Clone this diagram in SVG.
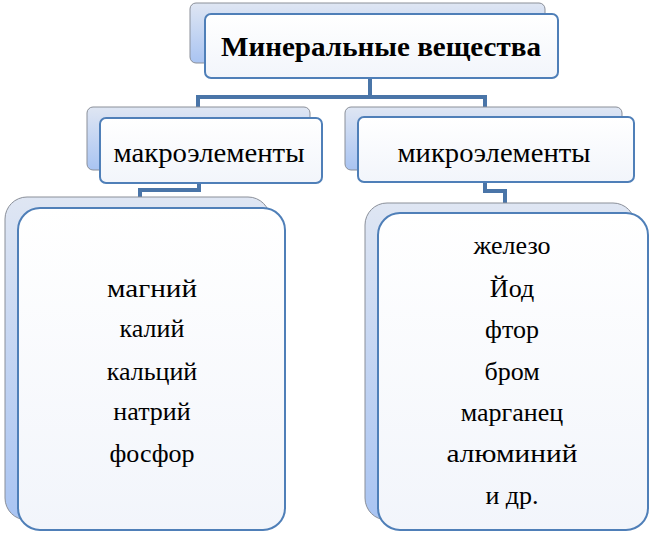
<svg xmlns="http://www.w3.org/2000/svg" width="650" height="533" viewBox="0 0 650 533">
<defs>
<linearGradient id="bk" x1="0" y1="0" x2="0" y2="1"><stop offset="0" stop-color="#dfe6f3"/><stop offset="1" stop-color="#a9c4f2"/></linearGradient>
<linearGradient id="fr" x1="0" y1="0" x2="0" y2="1"><stop offset="0" stop-color="#ffffff"/><stop offset="1" stop-color="#f2f5fb"/></linearGradient>
<style>
.back{fill:url(#bk);stroke:#8a8f99;stroke-width:1}
.front{fill:url(#fr);stroke:#4f7fb8;stroke-width:2}
.t{font-family:'Liberation Serif','DejaVu Serif',serif;fill:#000;text-anchor:middle}
.conn{fill:none;stroke:#4a75a8;stroke-width:4}
</style>
</defs>
<g id="connectors">
<path class="conn" d="M370 78V97H198V110M370 97H485V110"/>
<path class="conn" d="M199 183V190H140V199"/>
<path class="conn" d="M485 182V191H505V205"/>
</g>
<g id="root">
<rect class="back" x="190" y="3" width="355" height="60" rx="6"/>
<rect class="front" x="205" y="14" width="353" height="64" rx="6"/>
<text class="t" x="381" y="56" font-size="28" font-weight="bold" textLength="320" lengthAdjust="spacingAndGlyphs">Минеральные вещества</text>
</g>
<g id="macro">
<rect class="back" x="87" y="107" width="223" height="63" rx="6"/>
<rect class="front" x="100" y="118" width="222" height="65" rx="6"/>
<text class="t" x="209" y="162" font-size="28" textLength="191" lengthAdjust="spacingAndGlyphs">макроэлементы</text>
</g>
<g id="micro">
<rect class="back" x="345" y="107" width="277" height="63" rx="6"/>
<rect class="front" x="358" y="117" width="276" height="65" rx="6"/>
<text class="t" x="494" y="162" font-size="28" textLength="193" lengthAdjust="spacingAndGlyphs">микроэлементы</text>
</g>
<g id="macro-list">
<rect class="back" x="5" y="197" width="265" height="323" rx="22"/>
<rect class="front" x="18" y="208" width="267" height="322" rx="22"/>
<text class="t" x="152" y="297" font-size="26" textLength="90" lengthAdjust="spacingAndGlyphs">магний</text>
<text class="t" x="152" y="337" font-size="26">калий</text>
<text class="t" x="152" y="380" font-size="26">кальций</text>
<text class="t" x="152" y="420" font-size="26">натрий</text>
<text class="t" x="152" y="462" font-size="26">фосфор</text>
</g>
<g id="micro-list">
<rect class="back" x="365" y="203" width="270" height="317" rx="22"/>
<rect class="front" x="378" y="213" width="270" height="317" rx="22"/>
<text class="t" x="512" y="254" font-size="26">железо</text>
<text class="t" x="512" y="297" font-size="26">Йод</text>
<text class="t" x="512" y="338" font-size="26">фтор</text>
<text class="t" x="512" y="380" font-size="26">бром</text>
<text class="t" x="512" y="421" font-size="26">марганец</text>
<text class="t" x="512" y="462" font-size="26" textLength="131" lengthAdjust="spacingAndGlyphs">алюминий</text>
<text class="t" x="512" y="504" font-size="26">и др.</text>
</g>
</svg>
